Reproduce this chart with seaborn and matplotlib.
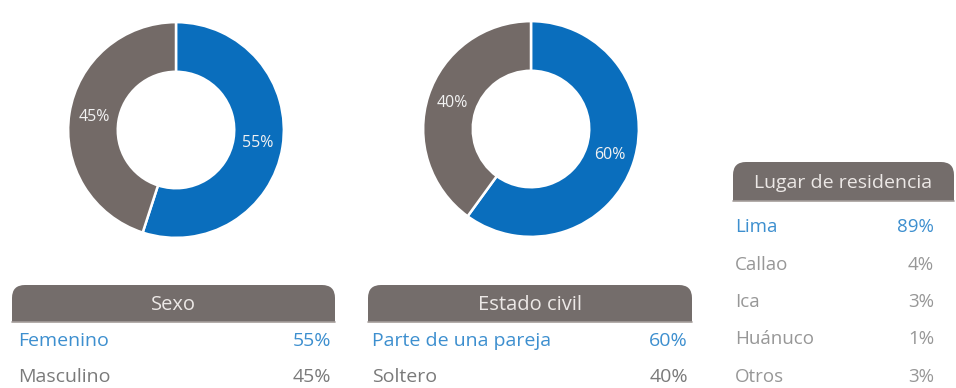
import matplotlib
matplotlib.use("Agg")
import matplotlib.pyplot as plt
from matplotlib.patches import FancyBboxPatch, Rectangle
import seaborn as sns

# Data
sexo_labels = ["Femenino", "Masculino"]
sexo_values = [55, 45]
civil_labels = ["Parte de una pareja", "Soltero"]
civil_values = [60, 40]
lugar_labels = ["Lima", "Callao", "Ica", "Huánuco", "Otros"]
lugar_values = [89, 4, 3, 1, 3]

sns.set_theme(style="white")
plt.rcParams["font.family"] = ["Open Sans", "DejaVu Sans"]

BLUE = "#0a6ebd"
GRAY = "#736a67"
HEADER = "#746d6b"
TXT_BLUE = "#3d8fcf"
TXT_GRAY = "#7a7a7a"
TXT_LIGHT = "#979797"
palette = sns.color_palette([BLUE, GRAY])

W, H = 956, 388
fig = plt.figure(figsize=(W / 100, H / 100), dpi=100)
fig.patch.set_facecolor("white")

# Canvas axes in pixel units for the tables
base = fig.add_axes([0, 0, 1, 1])
base.set_xlim(0, W)
base.set_ylim(H, 0)
base.axis("off")


def donut(cx, cy, r, values):
    ax = fig.add_axes([(cx - r) / W, (H - cy - r) / H, 2 * r / W, 2 * r / H])
    wedges, _, autotexts = ax.pie(
        values, colors=palette, startangle=90, counterclock=False,
        radius=1.0, autopct=lambda p: f"{p:.0f}%", pctdistance=0.77,
        wedgeprops=dict(width=0.46, edgecolor="white", linewidth=1.8),
        textprops=dict(color="white", fontsize=11.5),
    )
    for t in autotexts:
        t.set_color("#f2f2f2")
    ax.set_xlim(-1.02, 1.02)
    ax.set_ylim(-1.02, 1.02)
    ax.set_aspect("equal")
    ax.axis("off")


donut(176, 130, 110, sexo_values)
donut(531, 129, 110, civil_values)


def header(x0, x1, y0, y1, title, fs=14.5):
    rad = 13
    base.add_patch(FancyBboxPatch((x0, y0), x1 - x0, y1 - y0,
                                  boxstyle=f"round,pad=0,rounding_size={rad}",
                                  facecolor=HEADER, edgecolor="none", zorder=2))
    base.add_patch(Rectangle((x0, y0 + rad), x1 - x0, y1 - y0 - rad,
                             facecolor=HEADER, edgecolor="none", zorder=2))
    base.plot([x0, x1], [y1, y1], color="#a49d9a", lw=1.2, zorder=3)
    base.text((x0 + x1) / 2, (y0 + y1) / 2 + 2, title, color="#ece8e6",
              fontsize=fs, ha="center", va="center", zorder=4)


def rows(xl, xr, y_first, step, labels, values, colors, fs=14):
    for i, (lab, val) in enumerate(zip(labels, values)):
        y = y_first + i * step
        base.text(xl, y, lab, color=colors[i], fontsize=fs,
                  ha="left", va="center")
        base.text(xr, y, f"{val}%", color=colors[i], fontsize=fs,
                  ha="right", va="center")


header(12, 335, 285, 322, "Sexo")
rows(18, 331, 341, 36.5, sexo_labels, sexo_values, [TXT_BLUE, TXT_GRAY])

header(368, 692, 285, 322, "Estado civil")
rows(372, 688, 341, 36.5, civil_labels, civil_values, [TXT_BLUE, TXT_GRAY])

header(733, 954, 162, 201, "Lugar de residencia", fs=14)
rows(735, 934, 227, 37.5, lugar_labels, lugar_values,
     [TXT_BLUE, TXT_LIGHT, TXT_LIGHT, TXT_LIGHT, TXT_LIGHT], fs=13.5)

fig.savefig("out.png", dpi=100, facecolor="white")
